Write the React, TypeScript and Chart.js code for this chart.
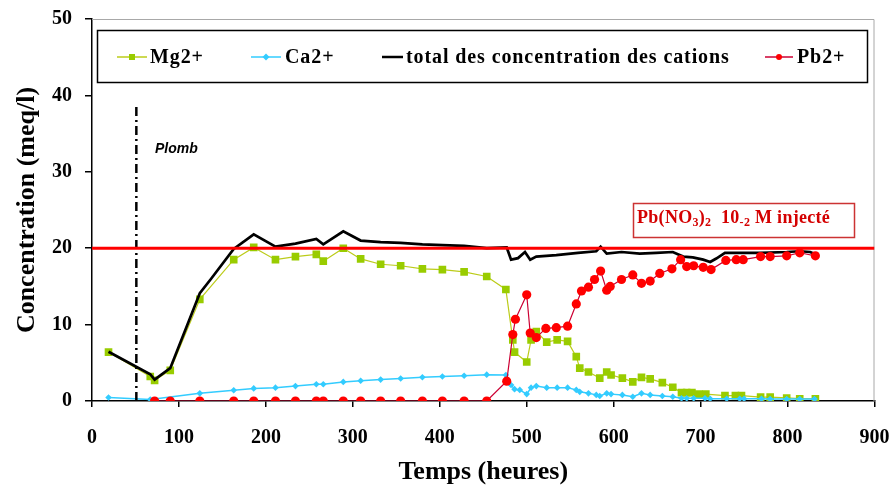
import React, { useEffect, useRef } from "react";
import { Chart, registerables } from "chart.js";
Chart.register(...registerables);

const xTicks = [0, 100, 200, 300, 400, 500, 600, 700, 800, 900];
const yTicks = [0, 10, 20, 30, 40, 50];

const mgTime = [19,67,72,90,124,163,186,211,234,258,266,289,309,332,355,380,403,428,454,476,484,486,500,505,511,523,535,547,557,561,571,584,592,597,610,622,632,642,656,668,678,684,690,698,706,728,740,747,769,780,799,814,832];
const mgConc = [6.4,3.2,2.7,4.0,13.3,18.5,20.1,18.5,18.9,19.2,18.3,20.0,18.6,17.9,17.7,17.3,17.2,16.9,16.3,14.6,8.0,6.4,5.1,8.0,9.1,7.7,8.0,7.8,5.8,4.3,3.8,3.0,3.8,3.4,3.0,2.5,3.1,2.9,2.4,1.8,1.1,1.1,1.1,0.9,0.9,0.7,0.7,0.7,0.5,0.5,0.4,0.3,0.3];

const caTime = [19,67,124,163,186,211,234,258,266,289,309,332,355,380,403,428,454,476,482,486,492,500,505,511,523,535,547,557,561,571,580,584,592,597,610,622,632,642,656,668,678,684,692,705,711,730,745,750,770,780,799,814,831];
const caConc = [0.45,0.2,1.0,1.4,1.65,1.75,1.95,2.2,2.2,2.5,2.65,2.8,2.95,3.1,3.2,3.3,3.45,3.4,2.1,1.55,1.45,0.9,1.75,1.95,1.75,1.75,1.75,1.45,1.2,1.0,0.8,0.65,1.0,0.9,0.8,0.55,1.0,0.8,0.65,0.55,0.35,0.35,0.35,0.35,0.3,0.3,0.3,0.3,0.3,0.25,0.25,0.25,0.25];

const totTime = [19,67,72,90,124,137,163,186,211,234,258,266,289,309,332,355,380,403,428,454,477,482,490,498,504,511,534,559,580,585,592,609,630,649,668,680,691,703,711,718,728,741,769,799,814,826,832];
const totConc = [6.45,3.5,2.8,4.3,14.1,16.0,19.9,21.8,20.2,20.6,21.2,20.5,22.2,21.0,20.8,20.7,20.5,20.4,20.3,20.0,20.1,18.5,18.7,19.5,18.5,18.9,19.1,19.4,19.6,20.2,19.3,19.5,19.3,19.4,19.5,18.9,18.8,18.5,18.2,18.65,19.4,19.4,19.4,19.5,19.6,19.5,19.2];

const pbTime = [72,90,124,163,186,211,234,258,266,289,309,332,355,380,403,428,454,477,484,487,500,504,511,522,534,547,557,563,571,578,585,592,596,609,622,632,642,653,667,677,684,692,703,712,729,741,749,769,780,799,814,832];
const pbConc = [0,0,0,0,0,0,0,0,0,0,0,0,0,0,0,0,0,2.6,8.7,10.7,13.9,8.9,8.3,9.5,9.6,9.8,12.7,14.4,14.9,15.9,17.0,14.5,15.0,15.9,16.5,15.4,15.7,16.7,17.3,18.5,17.6,17.7,17.5,17.2,18.4,18.5,18.5,18.9,18.9,19.0,19.4,19.0];

const injectedLevel = 20;
const injectionTime = 51;
const injectionTop = 38.7;

const legendLabels = ["Mg2+", "Ca2+", "total des concentration des cations", "Pb2+"];

const MG_MARK = "#99cc00";
const MG_LINE = "#bccc1a";
const CA_COLOR = "#33ccff";
const PB_MARK = "#ff0000";
const PB_LINE = "#cc0033";
const SERIF = "'Liberation Serif', 'Times New Roman', serif";
const SANS = "'Liberation Sans', Arial, sans-serif";

const pts = (xs: number[], ys: number[]) => xs.map((x, i) => ({ x, y: ys[i] }));

const decorPlugin = {
  id: "decor",
  beforeDatasetsDraw(chart: any) {
    const { ctx, chartArea: a } = chart;
    ctx.save();
    ctx.strokeStyle = "#a8a8a8";
    ctx.lineWidth = 1;
    ctx.beginPath();
    ctx.moveTo(a.left, a.top + 0.5);
    ctx.lineTo(a.right - 0.5, a.top + 0.5);
    ctx.lineTo(a.right - 0.5, a.bottom);
    ctx.stroke();
    ctx.restore();
  },
  afterDatasetsDraw(chart: any) {
    const { ctx } = chart;
    ctx.save();
    // Legend box
    ctx.fillStyle = "#ffffff";
    ctx.fillRect(97, 30, 771, 53);
    ctx.strokeStyle = "#000000";
    ctx.lineWidth = 1.5;
    ctx.strokeRect(97.5, 30.5, 770, 52);
    const ly = 57;
    ctx.font = `bold 20px ${SERIF}`;
    ctx.textBaseline = "middle";
    ctx.fillStyle = "#000";
    (ctx as any).letterSpacing = "0.9px";
    // Mg
    ctx.strokeStyle = MG_LINE; ctx.lineWidth = 1.5;
    ctx.beginPath(); ctx.moveTo(117, ly); ctx.lineTo(147, ly); ctx.stroke();
    ctx.fillStyle = MG_MARK; ctx.fillRect(129, ly - 3, 6, 6);
    ctx.fillStyle = "#000"; ctx.fillText(legendLabels[0], 150, ly + 1);
    // Ca
    ctx.strokeStyle = CA_COLOR; ctx.lineWidth = 1.5;
    ctx.beginPath(); ctx.moveTo(251, ly); ctx.lineTo(281, ly); ctx.stroke();
    ctx.fillStyle = CA_COLOR;
    ctx.beginPath(); ctx.moveTo(266, ly - 3.5); ctx.lineTo(269.5, ly); ctx.lineTo(266, ly + 3.5); ctx.lineTo(262.5, ly); ctx.closePath(); ctx.fill();
    ctx.fillStyle = "#000"; ctx.fillText(legendLabels[1], 285, ly + 1);
    // Total
    ctx.strokeStyle = "#000"; ctx.lineWidth = 2.5;
    ctx.beginPath(); ctx.moveTo(382, ly); ctx.lineTo(403, ly); ctx.stroke();
    ctx.fillText(legendLabels[2], 406, ly + 1);
    // Pb
    ctx.strokeStyle = PB_LINE; ctx.lineWidth = 1.5;
    ctx.beginPath(); ctx.moveTo(765, ly); ctx.lineTo(793, ly); ctx.stroke();
    ctx.fillStyle = PB_MARK;
    ctx.beginPath(); ctx.arc(779, ly, 3, 0, Math.PI * 2); ctx.fill();
    ctx.fillStyle = "#000"; ctx.fillText(legendLabels[3], 797, ly + 1);
    (ctx as any).letterSpacing = "0px";

    // Plomb label
    ctx.font = `italic bold 14px ${SANS}`;
    ctx.fillText("Plomb", 155, 149);

    // Injection box
    ctx.fillStyle = "#ffffff";
    ctx.fillRect(633, 203, 222, 35);
    ctx.strokeStyle = "#cc3333"; ctx.lineWidth = 1.5;
    ctx.strokeRect(633.5, 203.5, 221, 34);
    const ty = 218;
    let tx = 637;
    const red = "#d40000";
    const big = `bold 18px ${SERIF}`;
    const small = `bold 12px ${SERIF}`;
    (ctx as any).letterSpacing = "0.3px";
    const seg = (t: string, sub: boolean) => {
      ctx.font = sub ? small : big;
      ctx.fillStyle = red;
      ctx.fillText(t, tx, sub ? ty + 5 : ty);
      tx += ctx.measureText(t).width;
    };
    seg("Pb(NO", false); seg("3", true); seg(")", false); seg("2", true);
    seg("  10", false); seg("-2", true); seg(" M injecté", false);
    ctx.restore();
  },
};

export default function App() {
  const ref = useRef<HTMLCanvasElement | null>(null);
  useEffect(() => {
    if (!ref.current) return;
    const chart = new Chart(ref.current, {
      type: "line",
      data: {
        datasets: [
          {
            label: "ref",
            data: [{ x: 0, y: injectedLevel }, { x: 900, y: injectedLevel }],
            borderColor: "#ff0000", borderWidth: 3, pointRadius: 0,
          },
          {
            label: "plomb",
            data: [{ x: injectionTime, y: 0 }, { x: injectionTime, y: injectionTop }],
            borderColor: "#000", borderWidth: 2.5, borderDash: [9, 4, 2, 4], pointRadius: 0,
          },
          {
            label: legendLabels[3],
            data: pts(pbTime, pbConc),
            borderColor: PB_LINE, borderWidth: 1.2,
            pointStyle: "circle", pointRadius: 4.6,
            pointBackgroundColor: PB_MARK, pointBorderColor: PB_MARK, pointBorderWidth: 0,
          },
          {
            label: legendLabels[2],
            data: pts(totTime, totConc),
            borderColor: "#000", borderWidth: 2.7, pointRadius: 0,
          },
          {
            label: legendLabels[1],
            data: pts(caTime, caConc),
            borderColor: CA_COLOR, borderWidth: 1.5,
            pointStyle: "rectRot", pointRadius: 3.3,
            pointBackgroundColor: CA_COLOR, pointBorderColor: CA_COLOR, pointBorderWidth: 0,
          },
          {
            label: legendLabels[0],
            data: pts(mgTime, mgConc),
            borderColor: MG_LINE, borderWidth: 1.2,
            pointStyle: "rect", pointRadius: 5.4,
            pointBackgroundColor: MG_MARK, pointBorderColor: MG_MARK, pointBorderWidth: 0,
          },
        ],
      },
      options: {
        animation: false,
        responsive: false,
        layout: { padding: { top: 19, right: 18.5, left: 0, bottom: 0 } },
        plugins: { legend: { display: false }, tooltip: { enabled: false } },
        elements: { line: { tension: 0 } },
        scales: {
          x: {
            type: "linear", min: 0, max: 900,
            afterBuildTicks: (s: any) => { s.ticks = xTicks.map((v) => ({ value: v })); },
            afterFit: (s: any) => { s.height = 94; s.paddingLeft = 0; s.paddingRight = 0; },
            grid: { drawOnChartArea: false, drawTicks: true, tickLength: 6, color: "#000", lineWidth: 1.5 },
            border: { display: true, color: "#000", width: 1.5 },
            ticks: { color: "#000", padding: 19, font: { family: SERIF, size: 20, weight: "bold" } },
            title: { display: true, text: "Temps (heures)", color: "#000", padding: { bottom: 7, top: 0 }, font: { family: SERIF, size: 26, weight: "bold" } },
          },
          y: {
            type: "linear", min: 0, max: 50,
            afterBuildTicks: (s: any) => { s.ticks = yTicks.map((v) => ({ value: v })); },
            afterFit: (s: any) => { s.width = 92; s.paddingTop = 0; s.paddingBottom = 0; },
            grid: { drawOnChartArea: false, drawTicks: true, tickLength: 7, color: "#000", lineWidth: 1.5 },
            border: { display: true, color: "#000", width: 1.5 },
            ticks: { color: "#000", padding: 13, font: { family: SERIF, size: 20, weight: "bold" } },
            title: { display: true, text: "Concentration (meq/l)", color: "#000", padding: { top: 12, bottom: 0 }, font: { family: SERIF, size: 26, weight: "bold" } },
          },
        },
      },
      plugins: [decorPlugin],
    } as any);
    return () => chart.destroy();
  }, []);
  return (
    <div style={{ position: "absolute", left: 0, top: 0, width: 893, height: 495, background: "#fff" }}>
      <canvas ref={ref} width={893} height={495} />
    </div>
  );
}
